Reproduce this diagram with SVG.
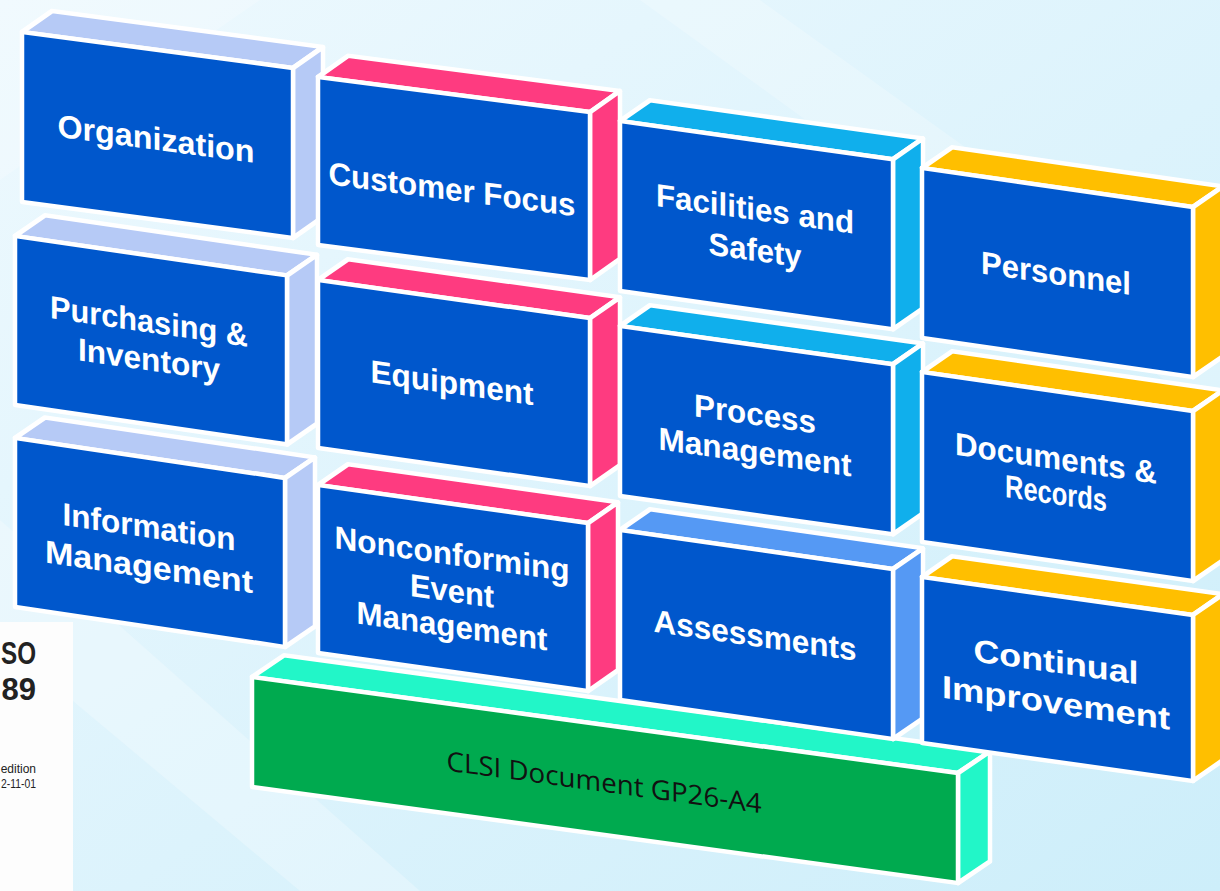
<svg xmlns="http://www.w3.org/2000/svg" width="1220" height="891" viewBox="0 0 1220 891">
  <defs>
    <linearGradient id="bg" x1="0" y1="0" x2="1" y2="1">
      <stop offset="0" stop-color="#eef9fe"/>
      <stop offset="0.55" stop-color="#dcf3fc"/>
      <stop offset="1" stop-color="#cdeefa"/>
    </linearGradient>
    <style>
      .face { stroke:#ffffff; stroke-width:4.5; stroke-linejoin:round; }
      .front { fill:#0057cc; }
      .c1 .top, .c1 .side { fill:#b6caf6; }
      .c2 .top, .c2 .side { fill:#fe3b80; }
      .c3 .top, .c3 .side { fill:#10afec; }
      .c3b .top, .c3b .side { fill:#5599f4; }
      .c4 .top, .c4 .side { fill:#ffbf00; }
      .base .front { fill:#00aa4f; }
      .base .top, .base .side { fill:#22f6c8; }
      .lbl { fill:#ffffff; font-family:"Liberation Sans", Arial, sans-serif; font-weight:bold; font-size:32px; text-anchor:middle; }
      .baselbl { fill:#111111; font-family:"Open Sans", "Liberation Sans", sans-serif; font-size:27px; text-anchor:middle; }
      .iso { fill:#222222; font-family:"Liberation Sans", Arial, sans-serif; }
    </style>
  </defs>

  <!-- backdrop -->
  <rect width="1220" height="891" fill="url(#bg)"/>
  <polygon points="0,520 420,891 300,891 0,640" fill="#ffffff" opacity="0.25"/>
  <polygon points="760,0 1220,330 1220,420 640,0" fill="#ffffff" opacity="0.22"/>
  <polygon points="0,0 260,0 0,180" fill="#ffffff" opacity="0.2"/>

  <!-- standard cover sheet at the left edge -->
  <g id="iso-sheet">
    <rect x="0" y="622" width="73" height="269" fill="#fdfdfd"/>
    <text class="iso" x="1" y="664" font-size="31" font-weight="bold" textLength="35" lengthAdjust="spacingAndGlyphs">SO</text>
    <text class="iso" x="36" y="700" font-size="31" font-weight="bold" text-anchor="end">89</text>
    <text class="iso" x="36" y="773" font-size="12" text-anchor="end">edition</text>
    <text class="iso" x="1" y="788" font-size="12" textLength="35" lengthAdjust="spacingAndGlyphs">2-11-01</text>
  </g>

  <!-- foundation block -->
  <g id="clsi-base" class="base" transform="matrix(1,0.136,0,1,252,677)">
    <polygon class="face top" points="0,0 706,0 738,-26 32,-26"/>
    <polygon class="face side" points="706,0 738,-26 738,84 706,110"/>
    <rect class="face front" width="706" height="110"/>
    <text class="baselbl" x="352" y="67" textLength="315" lengthAdjust="spacingAndGlyphs">CLSI Document GP26-A4</text>
  </g>

  <!-- row 3 -->
  <g id="information-management" class="c1" transform="matrix(1,0.148,0,1,15,438)">
    <polygon class="face top" points="0,0 270,0 300,-25 30,-25"/>
    <polygon class="face side" points="270,0 300,-25 300,144 270,169"/>
    <rect class="face front" width="270" height="169"/>
    <text class="lbl" x="134" y="80" textLength="173" lengthAdjust="spacingAndGlyphs">Information</text>
    <text class="lbl" x="134" y="120" textLength="208" lengthAdjust="spacingAndGlyphs">Management</text>
  </g>
  <g id="nonconforming-event-management" class="c2" transform="matrix(1,0.141,0,1,318,485)">
    <polygon class="face top" points="0,0 270,0 300,-25 30,-25"/>
    <polygon class="face side" points="270,0 300,-25 300,143 270,168"/>
    <rect class="face front" width="270" height="168"/>
    <text class="lbl" x="134" y="61" textLength="235" lengthAdjust="spacingAndGlyphs">Nonconforming</text>
    <text class="lbl" x="134" y="98" textLength="84" lengthAdjust="spacingAndGlyphs">Event</text>
    <text class="lbl" x="134" y="133" textLength="191" lengthAdjust="spacingAndGlyphs">Management</text>
  </g>
  <g id="assessments" class="c3b" transform="matrix(1,0.143,0,1,620,530)">
    <polygon class="face top" points="0,0 273,0 303,-25 30,-25"/>
    <polygon class="face side" points="273,0 303,-25 303,145 273,170"/>
    <rect class="face front" width="273" height="170"/>
    <text class="lbl" x="135" y="97" textLength="203" lengthAdjust="spacingAndGlyphs">Assessments</text>
  </g>
  <g id="continual-improvement" class="c4" transform="matrix(1,0.14,0,1,922,577)">
    <polygon class="face top" points="0,0 271,0 301,-25 30,-25"/>
    <polygon class="face side" points="271,0 301,-25 301,141 271,166"/>
    <rect class="face front" width="271" height="166"/>
    <text class="lbl" x="134" y="77" font-size="36" textLength="165" lengthAdjust="spacingAndGlyphs">Continual</text>
    <text class="lbl" x="134" y="118" font-size="36" textLength="228" lengthAdjust="spacingAndGlyphs">Improvement</text>
  </g>

  <!-- row 2 -->
  <g id="purchasing-inventory" class="c1" transform="matrix(1,0.145,0,1,15,236)">
    <polygon class="face top" points="0,0 272,0 302,-25 30,-25"/>
    <polygon class="face side" points="272,0 302,-25 302,144 272,169"/>
    <rect class="face front" width="272" height="169"/>
    <text class="lbl" x="134" y="77" textLength="198" lengthAdjust="spacingAndGlyphs">Purchasing &amp;</text>
    <text class="lbl" x="134" y="115" textLength="142" lengthAdjust="spacingAndGlyphs">Inventory</text>
  </g>
  <g id="equipment" class="c2" transform="matrix(1,0.14,0,1,318,280)">
    <polygon class="face top" points="0,0 272,0 302,-25 30,-25"/>
    <polygon class="face side" points="272,0 302,-25 302,143 272,168"/>
    <rect class="face front" width="272" height="168"/>
    <text class="lbl" x="134" y="95" textLength="163" lengthAdjust="spacingAndGlyphs">Equipment</text>
  </g>
  <g id="process-management" class="c3" transform="matrix(1,0.14,0,1,620,326)">
    <polygon class="face top" points="0,0 273,0 303,-25 30,-25"/>
    <polygon class="face side" points="273,0 303,-25 303,145 273,170"/>
    <rect class="face front" width="273" height="170"/>
    <text class="lbl" x="135" y="80" textLength="122" lengthAdjust="spacingAndGlyphs">Process</text>
    <text class="lbl" x="135" y="118" textLength="193" lengthAdjust="spacingAndGlyphs">Management</text>
  </g>
  <g id="documents-records" class="c4" transform="matrix(1,0.144,0,1,922,372)">
    <polygon class="face top" points="0,0 271,0 301,-25 30,-25"/>
    <polygon class="face side" points="271,0 301,-25 301,145 271,170"/>
    <rect class="face front" width="271" height="170"/>
    <text class="lbl" x="134" y="78" textLength="202" lengthAdjust="spacingAndGlyphs">Documents &amp;</text>
    <text class="lbl" x="134" y="113" font-size="26" textLength="102" lengthAdjust="spacingAndGlyphs">Records</text>
  </g>

  <!-- row 1 -->
  <g id="organization" class="c1" transform="matrix(1,0.133,0,1,22,32)">
    <polygon class="face top" points="0,0 271,0 301,-25 30,-25"/>
    <polygon class="face side" points="271,0 301,-25 301,145 271,170"/>
    <rect class="face front" width="271" height="170"/>
    <text class="lbl" x="134" y="100" textLength="197" lengthAdjust="spacingAndGlyphs">Organization</text>
  </g>
  <g id="customer-focus" class="c2" transform="matrix(1,0.129,0,1,318,77)">
    <polygon class="face top" points="0,0 272,0 302,-25 30,-25"/>
    <polygon class="face side" points="272,0 302,-25 302,143 272,168"/>
    <rect class="face front" width="272" height="168"/>
    <text class="lbl" x="134" y="106" textLength="247" lengthAdjust="spacingAndGlyphs">Customer Focus</text>
  </g>
  <g id="facilities-safety" class="c3" transform="matrix(1,0.14,0,1,620,121)">
    <polygon class="face top" points="0,0 273,0 303,-25 30,-25"/>
    <polygon class="face side" points="273,0 303,-25 303,145 273,170"/>
    <rect class="face front" width="273" height="170"/>
    <text class="lbl" x="135" y="80" textLength="198" lengthAdjust="spacingAndGlyphs">Facilities and</text>
    <text class="lbl" x="135" y="121" textLength="93" lengthAdjust="spacingAndGlyphs">Safety</text>
  </g>
  <g id="personnel" class="c4" transform="matrix(1,0.144,0,1,922,168)">
    <polygon class="face top" points="0,0 271,0 301,-25 30,-25"/>
    <polygon class="face side" points="271,0 301,-25 301,145 271,170"/>
    <rect class="face front" width="271" height="170"/>
    <text class="lbl" x="134" y="97" textLength="150" lengthAdjust="spacingAndGlyphs">Personnel</text>
  </g>
</svg>
